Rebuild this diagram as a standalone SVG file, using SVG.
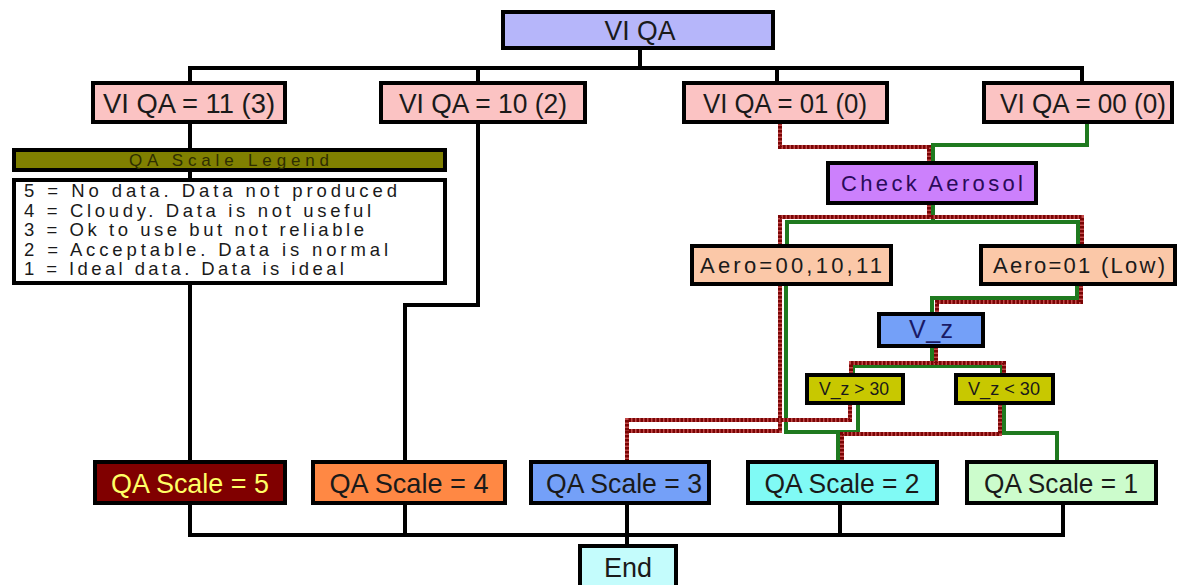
<svg xmlns="http://www.w3.org/2000/svg" width="1178" height="585" viewBox="0 0 1178 585">
<style>
  .box{stroke:#000;stroke-width:4;}
  .t{font-family:"Liberation Sans",Arial,sans-serif;fill:#1a1a1a;}
  .big{font-size:28px;text-anchor:middle;}
  .mid{font-size:22px;text-anchor:middle;}
  .blk{fill:none;stroke:#000;stroke-width:4;}
  .grn{fill:none;stroke:#1f7a1f;stroke-width:4;}
  .redb{fill:none;stroke:#c24a4a;stroke-width:4;}
  .redd{fill:none;stroke:#7a0505;stroke-width:4;stroke-dasharray:2.5 1.5;}
</style>
<rect width="1178" height="585" fill="#fff"/>
<g id="connectors">
  <path class="blk" d="M640,48 V68 M190,83 V68 H1082 V83 M478,68 V83 M777,68 V83"/>
  <path class="blk" d="M190,122 V462"/>
  <path class="blk" d="M478,122 V305 H405 V462"/>
  <path class="blk" d="M190,503 V535 H1063 V503 M405,503 V535 M627,503 V546 M840,503 V535"/>
  <g id="green-paths">
    <path class="grn" d="M1087,122 V145 H933 V163"/>
    <path class="grn" d="M933,203 V222 M787,246 V222 H1078 V246"/>
    <path class="grn" d="M786,284 V432 H858 V403 M838,432 V462"/>
    <path class="grn" d="M1077,284 V298 H932 V314"/>
    <path class="grn" d="M932,346 V366 M853,375 V366 H1002 V375"/>
    <path class="grn" d="M1004,403 V433 H1057 V462"/>
  </g>
  <g id="red-paths">
    <path class="redb" d="M780,122 V147 H929 V163"/>
    <path class="redd" d="M780,122 V147 H929 V163"/>
    <path class="redb" d="M929,203 V217 M780,246 V217 H1082 V246"/>
    <path class="redd" d="M929,203 V217 M780,246 V217 H1082 V246"/>
    <path class="redb" d="M780,284 V431 H627 V462"/>
    <path class="redd" d="M780,284 V431 H627 V462"/>
    <path class="redb" d="M850,403 V420 H627 V431"/>
    <path class="redd" d="M850,403 V420 H627 V431"/>
    <path class="redb" d="M1081,284 V302 H937 V314"/>
    <path class="redd" d="M1081,284 V302 H937 V314"/>
    <path class="redb" d="M936,346 V363 M851,375 V363 H1004 V375"/>
    <path class="redd" d="M936,346 V363 M851,375 V363 H1004 V375"/>
    <path class="redb" d="M1000,403 V434 H842 V462"/>
    <path class="redd" d="M1000,403 V434 H842 V462"/>
  </g>
</g>
<g id="vi-qa">
  <rect class="box" x="503" y="12" width="270" height="36" fill="#b6b6fa"/>
  <text class="t big" x="640" y="40" textLength="71" lengthAdjust="spacingAndGlyphs">VI QA</text>
</g>
<g id="vi-qa-11">
  <rect class="box" x="93" y="83" width="192" height="39" fill="#fbc3c3"/>
  <text class="t big" x="189" y="113" textLength="172" lengthAdjust="spacingAndGlyphs">VI QA = 11 (3)</text>
</g>
<g id="vi-qa-10">
  <rect class="box" x="381" y="83" width="204" height="39" fill="#fbc3c3"/>
  <text class="t big" x="483" y="113" textLength="168" lengthAdjust="spacingAndGlyphs">VI QA = 10 (2)</text>
</g>
<g id="vi-qa-01">
  <rect class="box" x="684" y="83" width="203" height="39" fill="#fbc3c3"/>
  <text class="t big" x="785" y="113" textLength="164" lengthAdjust="spacingAndGlyphs">VI QA = 01 (0)</text>
</g>
<g id="vi-qa-00">
  <rect class="box" x="984" y="83" width="188" height="39" fill="#fbc3c3"/>
  <text class="t big" x="1083" y="113" textLength="166" lengthAdjust="spacingAndGlyphs">VI QA = 00 (0)</text>
</g>
<g id="legend-title">
  <rect class="box" x="14" y="150" width="431" height="20" fill="#808000"/>
  <text class="t" x="229" y="166" font-size="17" text-anchor="middle" style="fill:#2e2e00" textLength="200" lengthAdjust="spacing">QA Scale Legend</text>
</g>
<g id="legend">
  <rect class="box" x="14" y="180" width="431" height="103" fill="#fff"/>
  <g class="t" font-size="18.5">
    <text x="24" y="197" textLength="373" lengthAdjust="spacing">5 = No data. Data not produced</text>
    <text x="24" y="216.5" textLength="347" lengthAdjust="spacing">4 = Cloudy. Data is not useful</text>
    <text x="24" y="236" textLength="340" lengthAdjust="spacing">3 = Ok to use but not reliable</text>
    <text x="24" y="255.5" textLength="364" lengthAdjust="spacing">2 = Acceptable. Data is normal</text>
    <text x="24" y="275" textLength="320" lengthAdjust="spacing">1 = Ideal data. Data is ideal</text>
  </g>
</g>
<g id="check-aerosol">
  <rect class="box" x="828" y="163" width="208" height="40" fill="#cc80fc"/>
  <text class="t mid" x="932" y="191" style="fill:#2a0a5a" textLength="182" lengthAdjust="spacing">Check Aerosol</text>
</g>
<g id="aero-high">
  <rect class="box" x="692" y="246" width="199" height="38" fill="#fbc8a8"/>
  <text class="t mid" x="791" y="273" textLength="182" lengthAdjust="spacing">Aero=00,10,11</text>
</g>
<g id="aero-low">
  <rect class="box" x="981" y="246" width="194" height="38" fill="#fbc8a8"/>
  <text class="t mid" x="1079" y="273" textLength="172" lengthAdjust="spacing">Aero=01 (Low)</text>
</g>
<g id="vz">
  <rect class="box" x="879" y="314" width="104" height="32" fill="#74a0f8"/>
  <text class="t" x="931" y="338" font-size="25" text-anchor="middle" style="fill:#1a1a66" textLength="44" lengthAdjust="spacing">V_z</text>
</g>
<g id="vz-gt">
  <rect class="box" x="807" y="375" width="96" height="28" fill="#c8c800"/>
  <text class="t" x="854" y="395" font-size="18" text-anchor="middle" textLength="70" lengthAdjust="spacingAndGlyphs">V_z &gt; 30</text>
</g>
<g id="vz-lt">
  <rect class="box" x="956" y="375" width="97" height="28" fill="#c8c800"/>
  <text class="t" x="1004" y="395" font-size="18" text-anchor="middle" textLength="72" lengthAdjust="spacingAndGlyphs">V_z &lt; 30</text>
</g>
<g id="qa5">
  <rect class="box" x="95" y="462" width="190" height="41" fill="#800000"/>
  <text class="t big" x="190" y="493" style="fill:#ffff66" textLength="158" lengthAdjust="spacingAndGlyphs">QA Scale = 5</text>
</g>
<g id="qa4">
  <rect class="box" x="313" y="462" width="192" height="41" fill="#ff8844"/>
  <text class="t big" x="409" y="493" textLength="159" lengthAdjust="spacingAndGlyphs">QA Scale = 4</text>
</g>
<g id="qa3">
  <rect class="box" x="531" y="462" width="178" height="41" fill="#74a0f8"/>
  <text class="t big" x="624" y="493" textLength="156" lengthAdjust="spacingAndGlyphs">QA Scale = 3</text>
</g>
<g id="qa2">
  <rect class="box" x="748" y="462" width="189" height="41" fill="#80faf5"/>
  <text class="t big" x="842" y="493" textLength="155" lengthAdjust="spacingAndGlyphs">QA Scale = 2</text>
</g>
<g id="qa1">
  <rect class="box" x="967" y="462" width="189" height="41" fill="#ccfccc"/>
  <text class="t big" x="1061" y="493" textLength="154" lengthAdjust="spacingAndGlyphs">QA Scale = 1</text>
</g>
<g id="end">
  <rect class="box" x="580" y="546" width="96" height="44" fill="#c4fcfc"/>
  <text class="t big" x="628" y="577" textLength="48" lengthAdjust="spacingAndGlyphs">End</text>
</g>
</svg>
